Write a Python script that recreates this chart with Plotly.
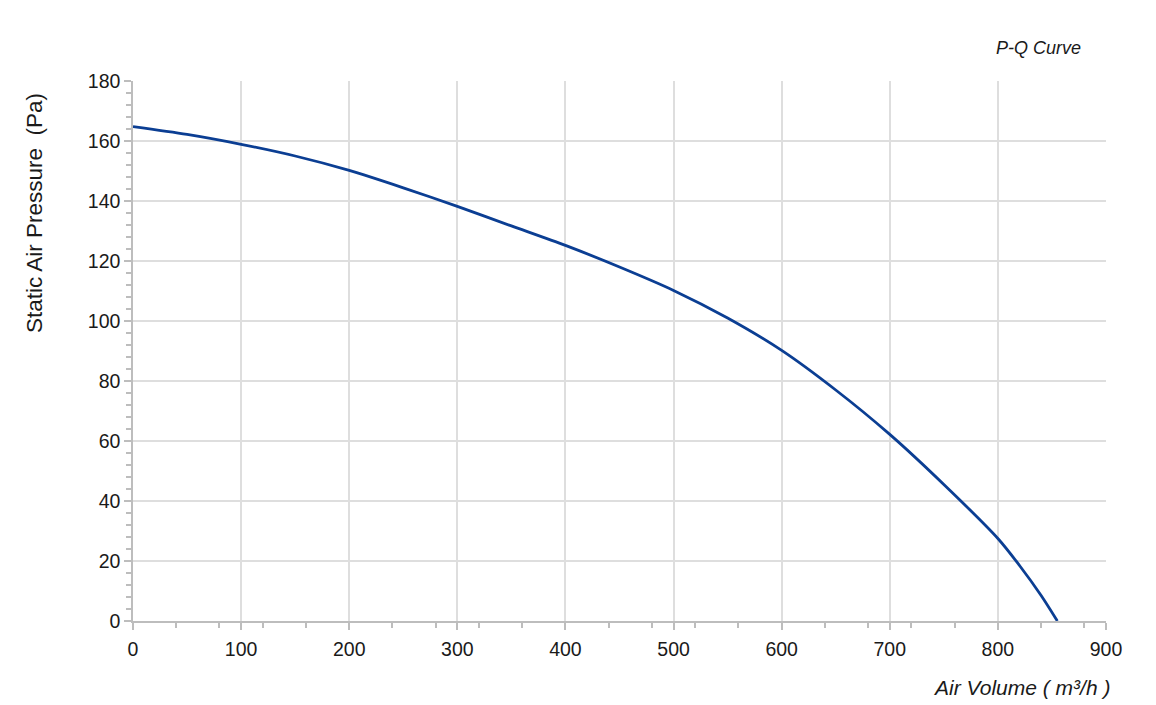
import plotly.graph_objects as go

air_volume = [0, 50, 100, 150, 200, 250, 300, 350, 400, 450, 500, 550, 600, 650, 700, 750, 800, 820, 840, 855]
pressure = [164.8, 162.2, 158.9, 155.0, 150.2, 144.4, 138.2, 131.7, 125.2, 118.0, 110.2, 101.0, 90.2, 77.0, 62.2, 45.5, 27.5, 18.5, 8.5, 0]

x_ticks = [0, 100, 200, 300, 400, 500, 600, 700, 800, 900]
y_ticks = [0, 20, 40, 60, 80, 100, 120, 140, 160, 180]

font_family = "Liberation Sans, Arial, sans-serif"

fig = go.Figure()
fig.add_trace(go.Scatter(
    x=air_volume, y=pressure, mode="lines",
    line=dict(color="#0b3e93", width=2.8, shape="spline", smoothing=0.8),
    hoverinfo="x+y", showlegend=False,
))

axis_common = dict(
    showline=True, linecolor="#bdbdbd", linewidth=1.5,
    showgrid=True, gridcolor="#dedede", gridwidth=1.5,
    ticks="outside", ticklen=7, tickwidth=1.5, tickcolor="#bdbdbd",
    tickfont=dict(family=font_family, size=19.5, color="#1a1a1a"),
    zeroline=False,
)

fig.update_xaxes(
    range=[0, 900], tickvals=x_ticks, ticklabelstandoff=3,
    minor=dict(dtick=40, tick0=0, ticks="outside", ticklen=5, tickcolor="#bdbdbd", tickwidth=1.5, showgrid=False),
    **axis_common,
)
fig.update_yaxes(
    range=[0, 180], tickvals=y_ticks,
    minor=dict(dtick=4, tick0=0, ticks="outside", ticklen=5, tickcolor="#bdbdbd", tickwidth=1.5, showgrid=False),
    **axis_common,
)

fig.add_annotation(
    text="<i>P-Q Curve</i>", xref="paper", yref="paper", x=1.0, y=1.0,
    xanchor="right", yanchor="middle", yshift=33, xshift=-23,
    showarrow=False, font=dict(family=font_family, size=18, color="#1a1a1a"),
)
fig.add_annotation(
    text="<i>Air Volume ( m³/h )</i>", xref="paper", yref="paper", x=1.0, y=0,
    xanchor="right", yanchor="middle", yshift=-66, xshift=6,
    showarrow=False, font=dict(family=font_family, size=21, color="#1a1a1a"),
)
fig.add_annotation(
    text="Static Air Pressure  (Pa)", xref="paper", yref="paper", x=0, y=0.7556,
    xanchor="center", yanchor="middle", xshift=-98, textangle=-90,
    showarrow=False, font=dict(family=font_family, size=22.5, color="#1a1a1a"),
)

fig.update_layout(
    width=1148, height=697,
    margin=dict(l=125, r=50, t=73, b=84),
    plot_bgcolor="white", paper_bgcolor="white",
)

fig.write_html("out.html")
